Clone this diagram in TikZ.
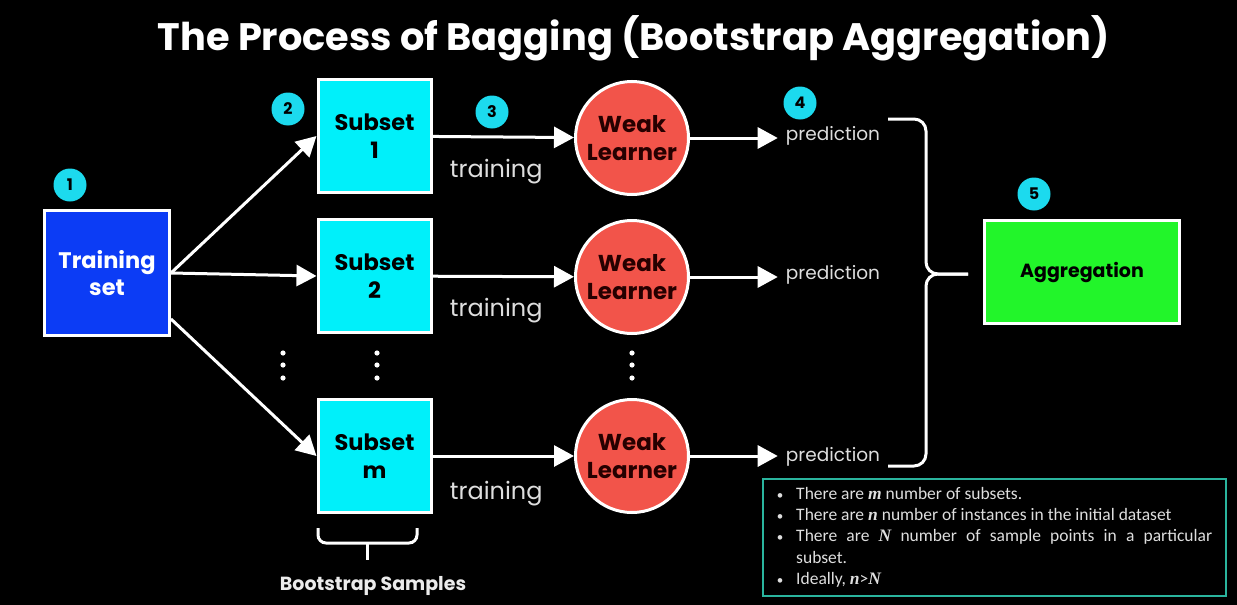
\documentclass[tikz,border=0pt]{standalone}
\usepackage{fontspec}
\setmainfont{Poppins}
\newfontfamily\notefont{Carlito}
\newfontfamily\varfont{Liberation Serif}
\usetikzlibrary{positioning,arrows.meta,calc}

\definecolor{trainblue}{RGB}{12,60,245}
\definecolor{subcyan}{RGB}{0,240,250}
\definecolor{stepcyan}{RGB}{28,218,238}
\definecolor{learnred}{RGB}{242,84,74}
\definecolor{agggreen}{RGB}{34,245,42}
\definecolor{noteteal}{RGB}{42,180,158}
\definecolor{labelgray}{RGB}{222,222,222}

\newcommand{\var}[1]{{\varfont\bfseries\itshape #1}}

\begin{document}
\begin{tikzpicture}[x=1pt, y=-1pt,
    stepnum/.style={circle, fill=stepcyan, inner sep=0pt, minimum size=33pt, text=black, font=\fontsize{16}{16}\selectfont\bfseries},
    subsetbox/.style={draw=white, line width=3pt, fill=subcyan, minimum width=113pt, minimum height=113pt, align=center, text=black, font=\fontsize{22.5}{28}\selectfont\bfseries},
    learner/.style={circle, draw=white, line width=3pt, fill=learnred, minimum size=113pt, inner sep=0pt, align=center, text=black!85!red, font=\fontsize{23}{28}\selectfont\bfseries},
    flow/.style={draw=white, line width=3pt, -{Triangle[length=20pt,width=21pt]}},
    trainlbl/.style={text=labelgray, font=\fontsize{24}{24}\selectfont},
    predlbl/.style={text=labelgray, font=\fontsize{18.5}{18.5}\selectfont, inner sep=8pt}
]
    % background and frame
    \fill[black] (0,0) rectangle (1237,605);

    % Title
    \node[text=white, font=\fontsize{38.3}{38}\selectfont\bfseries] (title) at (634,38) {The Process of Bagging (Bootstrap Aggregation)};

    % Training set
    \node[draw=white, line width=3pt, fill=trainblue, minimum width=125pt, minimum height=125pt, align=center, text=white, font=\fontsize{22.5}{27}\selectfont\bfseries] (train) at (107,273) {Training\\set};

    % Subsets
    \node[subsetbox] (sub1) at (374.5,136) {Subset\\1};
    \node[subsetbox] (sub2) at (374.5,276) {Subset\\2};
    \node[subsetbox] (subm) at (374.5,456) {Subset\\m};

    % Weak learners
    \node[learner] (wl1) at (632,138) {Weak\\Learner};
    \node[learner] (wl2) at (632,277) {Weak\\Learner};
    \node[learner] (wlm) at (632,456) {Weak\\Learner};

    % Predictions
    \node[predlbl] (pred1) at (833,136) {prediction};
    \node[predlbl] (pred2) at (833,275) {prediction};
    \node[predlbl] (predm) at (833,457) {prediction};

    % Aggregation
    \node[draw=white, line width=3pt, fill=agggreen, minimum width=195pt, minimum height=103pt, text=black, font=\fontsize{19}{19}\selectfont\bfseries] (agg) at (1082,272) {Aggregation};

    % Step numbers
    \node[stepnum] (n1) at (70,185) {1};
    \node[stepnum] (n2) at (288,109) {2};
    \node[stepnum] (n3) at (492,112) {3};
    \node[stepnum] (n4) at (800,103) {4};
    \node[stepnum] (n5) at (1034,194) {5};

    % Arrows from the training set
    \draw[flow] (train.east) -- (sub1.west);
    \draw[flow] (train.east) -- (sub2.west);
    \draw[flow] ([yshift=-46pt]train.east) -- (subm.west);

    % Training arrows
    \draw[flow] (sub1) -- node[trainlbl, pos=0.45, below=17pt] {training} (wl1);
    \draw[flow] (sub2) -- node[trainlbl, pos=0.45, below=17pt] {training} (wl2);
    \draw[flow] (subm) -- node[trainlbl, pos=0.45, below=20pt] {training} (wlm);

    % Prediction arrows
    \draw[flow] (wl1.east) -- (wl1.east -| pred1.west);
    \draw[flow] (wl2.east) -- (wl2.east -| pred2.west);
    \draw[flow] (wlm.east) -- (wlm.east -| predm.west);

    % Dots
    \foreach \x in {283,377,632}
        \foreach \y in {353,365,378}
            \fill[white] (\x,\y) circle (2.6pt);

    % Brace to aggregation
    \coordinate (tip) at (968,274);
    \draw[white, line width=3pt, rounded corners=12pt] (888,119) -- (926,119) -- (926,274) -- (tip);
    \draw[white, line width=3pt, rounded corners=12pt] (888,466) -- (926,466) -- (926,274) -- (tip);

    % Bootstrap samples brace
    \draw[white, line width=3pt, rounded corners=8pt] (318,528) -- (318,543) -- (417,543) -- (417,528);
    \draw[white, line width=3pt] (367,542) -- (367,560);
    \node[text=white!92!black, font=\fontsize{19}{19}\selectfont\bfseries] (boot) at (373,586) {Bootstrap Samples};

    % Notes
    \node[draw=noteteal, line width=2pt, minimum width=463pt, minimum height=117pt, inner xsep=14pt, inner ysep=3pt, text=labelgray, font=\notefont\fontsize{17.5}{21.3}\selectfont] (notes) at (994.5,537.5) {%
        \begin{tabular}{@{}l@{\hspace{13pt}}l@{}}
        {\fontsize{13}{13}\selectfont\textbullet} & There are \var{m} number of subsets.\\
        {\fontsize{13}{13}\selectfont\textbullet} & There are \var{n} number of instances in the initial dataset\\
        {\fontsize{13}{13}\selectfont\textbullet} & \makebox[416pt][s]{There are \var{N} number of sample points in a particular}\\
                    & subset.\\
        {\fontsize{13}{13}\selectfont\textbullet} & Ideally, \var{n}>\var{N}
        \end{tabular}};
\end{tikzpicture}
\end{document}
